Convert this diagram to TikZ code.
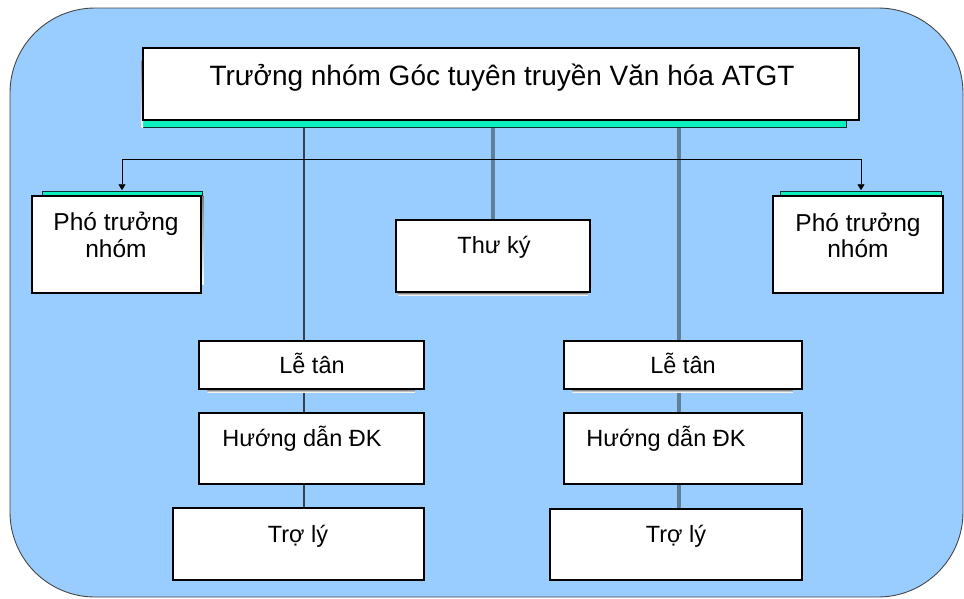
\documentclass[tikz,border=0pt]{standalone}
\usepackage{fontspec}
\setmainfont{Liberation Sans}
\usetikzlibrary{arrows.meta}
\definecolor{bgblue}{RGB}{153,204,255}
\definecolor{stripe}{RGB}{10,240,190}
\definecolor{shade}{RGB}{16,48,48}
\definecolor{linkblue}{RGB}{96,128,152}
\definecolor{linkdark}{RGB}{55,65,75}

\begin{document}
\begin{tikzpicture}[x=1pt,y=-1pt,
  box/.style={draw=black,fill=white,line width=1.5pt,inner sep=0pt,rectangle},
  lbl/.style={font=\fontsize{23.5}{27}\selectfont,anchor=base,inner sep=0pt},
  deplbl/.style={font=\fontsize{24.5}{28}\selectfont,anchor=base,inner sep=0pt},
  toplbl/.style={font=\fontsize{28}{32}\selectfont,anchor=base,inner sep=0pt},
  linkthin/.style={draw=linkdark,line width=1.6pt},
  linkwide/.style={draw=linkblue,line width=3.5pt},
  branch/.style={draw=black,line width=0.9pt},
  stripeband/.style={fill=stripe,draw=shade,line width=0.8pt}]

\useasboundingbox (0,0) rectangle (964,598);

% rounded panel behind the chart
\draw[fill=bgblue,draw=gray!55!black,line width=0.9pt,rounded corners=85pt]
  (10,8) rectangle (963,597);

% boxes (placed first so connectors can refer to them; redrawn on top below)
\path
  (501,84)      node[box,minimum width=716,minimum height=72] (top) {}
  (116.5,244.5) node[box,minimum width=169,minimum height=97] (depL) {}
  (858,244.5)   node[box,minimum width=170,minimum height=97] (depR) {}
  (493,256)     node[box,minimum width=194,minimum height=72] (sec) {}
  (311.5,365)   node[box,minimum width=225,minimum height=48] (recL) {}
  (311.5,448.5) node[box,minimum width=225,minimum height=71] (guideL) {}
  (298.5,544)   node[box,minimum width=251,minimum height=72] (asstL) {}
  (683,365)     node[box,minimum width=238,minimum height=48] (recR) {}
  (683,448.5)   node[box,minimum width=238,minimum height=71] (guideR) {}
  (676,544.5)   node[box,minimum width=252,minimum height=71] (asstR) {};

% column positions of the connectors
\coordinate (cL) at (304,0);
\coordinate (cR) at (679,0);
\coordinate (hL) at (122,159);
\coordinate (hR) at (861,159);

% connectors
\draw[linkthin] (top.south -| cL) -- (recL.north -| cL);
\draw[linkthin] (recL.south -| cL) -- (guideL.north -| cL);
\draw[linkthin] (guideL.south -| cL) -- (asstL.north -| cL);
\draw[linkwide] (top.south -| sec.north) -- (sec.north);
\draw[linkwide] (top.south -| cR) -- (recR.north -| cR);
\draw[linkwide] (recR.south -| cR) -- (guideR.north -| cR);
\draw[linkwide] (guideR.south -| cR) -- (asstR.north -| cR);
\draw[branch] (hL) -- (hR);
\draw[branch,-{Triangle[length=6pt,width=7pt]},shorten >=5pt] (hL) -- (hL |- depL.north);
\draw[branch,-{Triangle[length=6pt,width=7pt]},shorten >=5pt] (hR) -- (hR |- depR.north);

% coloured bands under the head box and over the deputy boxes
\filldraw[stripeband] (top.south west) rectangle (846,127);
\filldraw[stripeband] (42,191) rectangle (202,196.5);
\filldraw[stripeband] (780,191) rectangle (941,196.5);
\fill[shade] (201,196) rectangle (203.5,284);
\fill[shade] (141.5,60) rectangle (143,127);

% dark bars under the shaded boxes
\fill[shade] ([xshift=3pt]sec.south west) rectangle ([xshift=-3pt,yshift=-2.5pt]sec.south east);
\fill[shade] ([xshift=9pt]recL.south west) rectangle ([xshift=-10pt,yshift=-2.5pt]recL.south east);
\fill[shade] ([xshift=9pt]recR.south west) rectangle ([xshift=-10pt,yshift=-2.5pt]recR.south east);

% boxes on top of the connectors
\node[box,minimum width=716,minimum height=72] at (top) {};
\node[box,minimum width=169,minimum height=97] at (depL) {};
\node[box,minimum width=170,minimum height=97] at (depR) {};
\node[box,minimum width=194,minimum height=72] at (sec) {};
\node[box,minimum width=225,minimum height=48] at (recL) {};
\node[box,minimum width=225,minimum height=71] at (guideL) {};
\node[box,minimum width=251,minimum height=72] at (asstL) {};
\node[box,minimum width=238,minimum height=48] at (recR) {};
\node[box,minimum width=238,minimum height=71] at (guideR) {};
\node[box,minimum width=252,minimum height=71] at (asstR) {};

% labels
\node[toplbl] (tTop) at (502,85) {Trưởng nhóm Góc tuyên truyền Văn hóa ATGT};
\node[deplbl] (tDepL1) at (116,230) {Phó trưởng};
\node[deplbl] (tDepL2) at (116,257) {nhóm};
\node[deplbl] (tDepR1) at (858,231) {Phó trưởng};
\node[deplbl] (tDepR2) at (858,257) {nhóm};
\node[lbl] (tSec) at (494,253) {Thư ký};
\node[lbl] (tRecL) at (312,373) {Lễ tân};
\node[lbl] (tGuideL) at (302,446) {Hướng dẫn ĐK};
\node[lbl] (tAsstL) at (298,542) {Trợ lý};
\node[lbl] (tRecR) at (683,373) {Lễ tân};
\node[lbl] (tGuideR) at (666,446) {Hướng dẫn ĐK};
\node[lbl] (tAsstR) at (676,542) {Trợ lý};
\end{tikzpicture}
\end{document}
